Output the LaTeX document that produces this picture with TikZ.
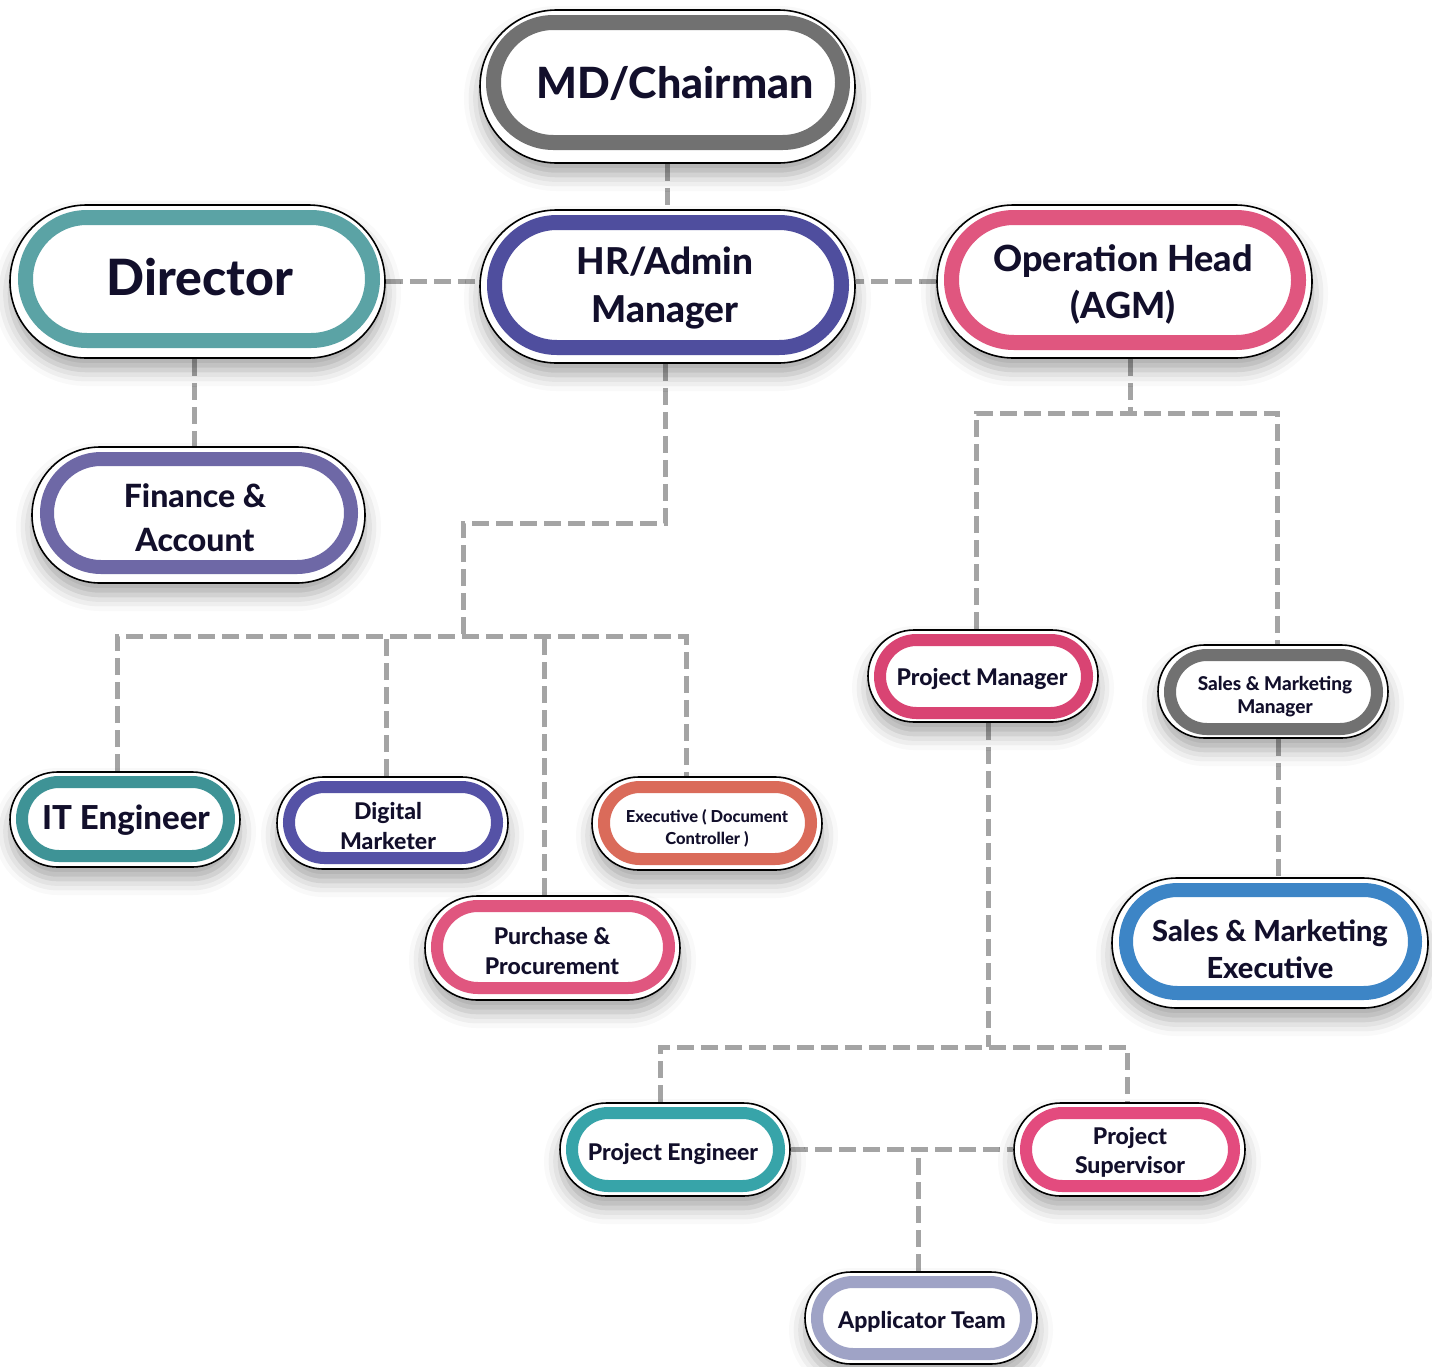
\documentclass[tikz,border=0pt]{standalone}
\usepackage{fontspec}
\IfFontExistsTF{Lato Heavy}{\setmainfont{Lato}[BoldFont={Lato Heavy}]}{\setmainfont{Lato}[BoldFeatures={FakeBold=1.2}]}
\usetikzlibrary{shapes.misc,shadows.blur}
\definecolor{ink}{HTML}{120F2B}
\definecolor{conngray}{HTML}{A4A4A4}
\definecolor{cgray}{HTML}{717171}
\definecolor{cteal}{HTML}{5BA3A5}
\definecolor{cindigo}{HTML}{4F4E9E}
\definecolor{cpink}{HTML}{E0567F}
\definecolor{cpurple}{HTML}{6E68A6}
\definecolor{cteald}{HTML}{3E9396}
\definecolor{cviolet}{HTML}{5552A6}
\definecolor{ccoral}{HTML}{DA6B5A}
\definecolor{ccrimson}{HTML}{D94473}
\definecolor{cblue}{HTML}{3D85C6}
\definecolor{ctealb}{HTML}{37A4A9}
\definecolor{crose}{HTML}{E34B7E}
\definecolor{clav}{HTML}{9FA3C6}
\pgfdeclarelayer{connlayer}
\pgfsetlayers{connlayer,main}
\tikzset{
  outline/.style={rounded rectangle, draw=black, line width=1.6pt, fill=white, inner sep=0pt,
    blur shadow={shadow xshift=0pt, shadow yshift=-12pt, shadow blur radius=16pt, shadow opacity=35}},
  ring/.style={rounded rectangle, draw=#1, fill=white, inner sep=0pt},
  lbl/.style={text=ink, align=center, inner sep=0pt},
  conn/.style={draw=conngray, line width=5pt, dash pattern=on 17pt off 7pt},
}
\newcommand{\fs}[2]{\fontsize{#1}{#2}\selectfont\bfseries}
\begin{document}
\begin{tikzpicture}[x=1pt,y=-1pt]
\useasboundingbox (0,0) rectangle (1432,1366);

% ---- nodes ----
% MD
\node[outline, minimum width=375, minimum height=153] (md) at (667.5,86.5) {};
\node[ring=cgray, line width=15pt, minimum width=349, minimum height=120] (mdr) at (668,82.5) {};
\node[lbl, font=\fs{43}{55}] (mdt) at (675,83) {MD/Chairman};
% Director
\node[outline, minimum width=375, minimum height=153] (dir) at (197.5,281.5) {};
\node[ring=cteal, line width=15pt, minimum width=347, minimum height=123] (dirr) at (199,279) {};
\node[lbl, font=\fs{50}{62}] (dirt) at (200,277) {Director};
% HR
\node[outline, minimum width=375, minimum height=153] (hr) at (667.5,286.5) {};
\node[ring=cindigo, line width=15pt, minimum width=347, minimum height=125] (hrr) at (668,285) {};
\node[lbl, font=\fs{37}{48}] (hrt) at (665,288) {HR/Admin\\Manager};
% Operation head
\node[outline, minimum width=375, minimum height=153] (op) at (1124.5,281.5) {};
\node[ring=cpink, line width=15pt, minimum width=347, minimum height=125] (opr) at (1125,280) {};
\node[lbl, font=\fs{36}{47}] (opt) at (1123,284) {Operation Head\\(AGM)};
% Finance
\node[outline, minimum width=333, minimum height=136] (fin) at (198.5,515) {};
\node[ring=cpurple, line width=14pt, minimum width=304, minimum height=108] (finr) at (199,513) {};
\node[lbl, font=\fs{32}{44}] (fint) at (195,518) {Finance \&\\Account};
% IT Engineer
\node[outline, minimum width=230, minimum height=95] (it) at (125,819.5) {};
\node[ring=cteald, line width=12pt, minimum width=207, minimum height=74] (itr) at (125.5,819) {};
\node[lbl, font=\fs{33}{42}] (itt) at (126,820) {IT Engineer};
% Digital Marketer
\node[outline, minimum width=231, minimum height=92] (dig) at (392.5,823) {};
\node[ring=cviolet, line width=12pt, minimum width=208, minimum height=71] (digr) at (393,822.5) {};
\node[lbl, font=\fs{23}{30}] (digt) at (388,826) {Digital\\Marketer};
% Executive
\node[outline, minimum width=230, minimum height=93] (exe) at (707,823.5) {};
\node[ring=ccoral, line width=12pt, minimum width=207, minimum height=72] (exer) at (707.5,823) {};
\node[lbl, font=\fs{16.5}{22}] (exet) at (707,828) {Executive ( Document\\Controller )};
% Purchase
\node[outline, minimum width=255, minimum height=104] (pur) at (552.5,948) {};
\node[ring=cpink, line width=12pt, minimum width=232, minimum height=82] (purr) at (553,947) {};
\node[lbl, font=\fs{23}{30}] (purt) at (552,951) {Purchase \&\\Procurement};
% Project Manager
\node[outline, minimum width=230, minimum height=92] (pm) at (983,676) {};
\node[ring=ccrimson, line width=12pt, minimum width=207, minimum height=73] (pmr) at (983.5,676.5) {};
\node[lbl, font=\fs{23}{30}] (pmt) at (982,679) {Project Manager};
% Sales & Marketing Manager
\node[outline, minimum width=230, minimum height=93] (smm) at (1273,691.5) {};
\node[ring=cgray, line width=12pt, minimum width=207, minimum height=74] (smmr) at (1273.5,692) {};
\node[lbl, font=\fs{19}{23}] (smmt) at (1275,697) {Sales \& Marketing\\Manager};
% Sales & Marketing Executive
\node[outline, minimum width=316, minimum height=130] (sme) at (1270,943) {};
\node[ring=cblue, line width=14pt, minimum width=289, minimum height=103] (smer) at (1270.5,941.5) {};
\node[lbl, font=\fs{29}{37}] (smet) at (1270,949) {Sales \& Marketing\\Executive};
% Project Engineer
\node[outline, minimum width=230, minimum height=93] (pe) at (675,1149.5) {};
\node[ring=ctealb, line width=12pt, minimum width=207, minimum height=73] (per) at (675.5,1149.5) {};
\node[lbl, font=\fs{23}{30}] (pet) at (673,1154) {Project Engineer};
% Project Supervisor
\node[outline, minimum width=231, minimum height=93] (ps) at (1129.5,1149.5) {};
\node[ring=crose, line width=12pt, minimum width=208, minimum height=73] (psr) at (1130,1149.5) {};
\node[lbl, font=\fs{23}{29}] (pst) at (1130,1152) {Project\\Supervisor};
% Applicator Team
\node[outline, minimum width=232, minimum height=92] (app) at (921,1318) {};
\node[ring=clav, line width=12pt, minimum width=209, minimum height=72] (appr) at (921.5,1318) {};
\node[lbl, font=\fs{23}{30}] (appt) at (922,1322) {Applicator Team};

% ---- connectors ----
\begin{pgfonlayer}{connlayer}
\coordinate (hrbend) at (463,523);
\coordinate (hrbus) at (463,636);
\coordinate (opbus) at (1130,413);
\coordinate (pmbus) at (988,1047);
\draw[conn] (md.south) -- (md.south |- hr.north);
\draw[conn] (dir.east) -- (dir.east -| hr.west);
\draw[conn] (op.west) -- (op.west -| hr.east);
\draw[conn] ([xshift=-3pt]dir.south) -- ([xshift=-3pt]dir.south |- fin.north);
\draw[conn] ([xshift=-2pt]hr.south) |- (hrbend) -- (hrbus);
\draw[conn] ([xshift=-8pt]it.north) |- (hrbus) -| ([xshift=-21pt]exe.north);
\draw[conn] ([xshift=-6pt]dig.north) -- ([xshift=-6pt]dig.north |- hrbus);
\draw[conn] ([xshift=-8pt]pur.north) -- ([xshift=-8pt]pur.north |- hrbus);
\draw[conn] (op.south -| opbus) -- (opbus);
\draw[conn] ([xshift=-7pt]pm.north) |- (opbus) -| ([xshift=4pt]smm.north);
\draw[conn] ([xshift=5pt]smm.south) -- ([xshift=5pt]smm.south |- sme.north);
\draw[conn] (pm.south -| pmbus) -- (pmbus);
\draw[conn] ([xshift=-15pt]pe.north) |- (pmbus) -| ([xshift=-2.5pt]ps.north);
\draw[conn] (pe.east) -- (ps.west);
\draw[conn] ([xshift=-3pt]app.north) -- ([xshift=-3pt]app.north |- pe.east);
\end{pgfonlayer}
\end{tikzpicture}
\end{document}
